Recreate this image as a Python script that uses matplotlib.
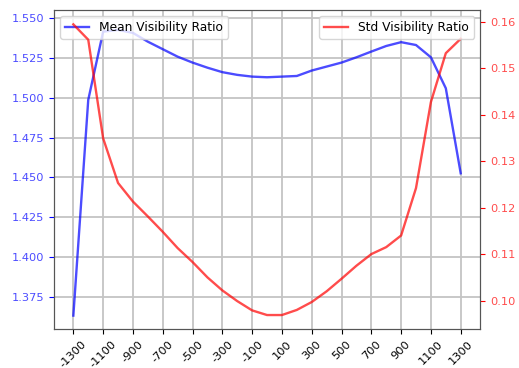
import matplotlib
matplotlib.use("Agg")
import matplotlib.pyplot as plt
import numpy as np

# --- data ------------------------------------------------------------------
offsets = list(range(-1300, 1301, 100))

mean_ratio = [
    1.3634, 1.4986, 1.5414, 1.5425, 1.5406, 1.5351, 1.5304, 1.5257, 1.5220,
    1.5188, 1.5160, 1.5143, 1.5132, 1.5128, 1.5132, 1.5136, 1.5170, 1.5195,
    1.5220, 1.5253, 1.5289, 1.5324, 1.5348, 1.5330, 1.5253, 1.5059, 1.4526,
]

std_ratio = [
    0.1594, 0.1561, 0.1349, 0.1253, 0.1213, 0.1181, 0.1148, 0.1113, 0.1083,
    0.1050, 0.1022, 0.0999, 0.0979, 0.0969, 0.0969, 0.0980, 0.0997, 0.1020,
    0.1047, 0.1075, 0.1100, 0.1115, 0.1140, 0.1242, 0.1427, 0.1532, 0.1563,
]

xticks = list(range(-1300, 1301, 200))
left_ticks = [1.375, 1.400, 1.425, 1.450, 1.475, 1.500, 1.525, 1.550]
right_ticks = [0.10, 0.11, 0.12, 0.13, 0.14, 0.15, 0.16]

FS = 8.2
LEG_FS = 8.8

fig = plt.figure(figsize=(5.19, 3.68), dpi=100)
ax = fig.add_axes([0.104, 0.106, 0.821, 0.867])
ax2 = ax.twinx()

ax.plot(offsets, mean_ratio, color="blue", alpha=0.7, linewidth=1.7,
        label="Mean Visibility Ratio")
ax2.plot(offsets, std_ratio, color="red", alpha=0.7, linewidth=1.7,
         label="Std Visibility Ratio")

ax.set_xlim(-1430, 1430)
ax.set_ylim(1.355, 1.555)
ax2.set_ylim(0.0939, 0.1625)

ax.set_xticks(xticks)
ax.set_xticklabels([str(t) for t in xticks], rotation=45, fontsize=FS)
ax.set_yticks(left_ticks)
ax.set_yticklabels([f"{t:.3f}" for t in left_ticks], fontsize=FS)
ax2.set_yticks(right_ticks)
ax2.set_yticklabels([f"{t:.2f}" for t in right_ticks], fontsize=FS)

ax.tick_params(axis="y", colors="blue")
ax.tick_params(axis="x", colors="black")
ax2.tick_params(axis="y", colors="red")
for t in ax.get_yticklabels():
    t.set_alpha(0.7)
for t in ax2.get_yticklabels():
    t.set_alpha(0.7)

for a in (ax, ax2):
    for s in a.spines.values():
        s.set_color("#555555")

ax.grid(True, color="#c4c4c4", linewidth=1.3)
ax.set_axisbelow(True)

ax.legend(loc="upper left", fontsize=LEG_FS)
ax2.legend(loc="upper right", fontsize=LEG_FS)

fig.savefig("out.png", dpi=100)
